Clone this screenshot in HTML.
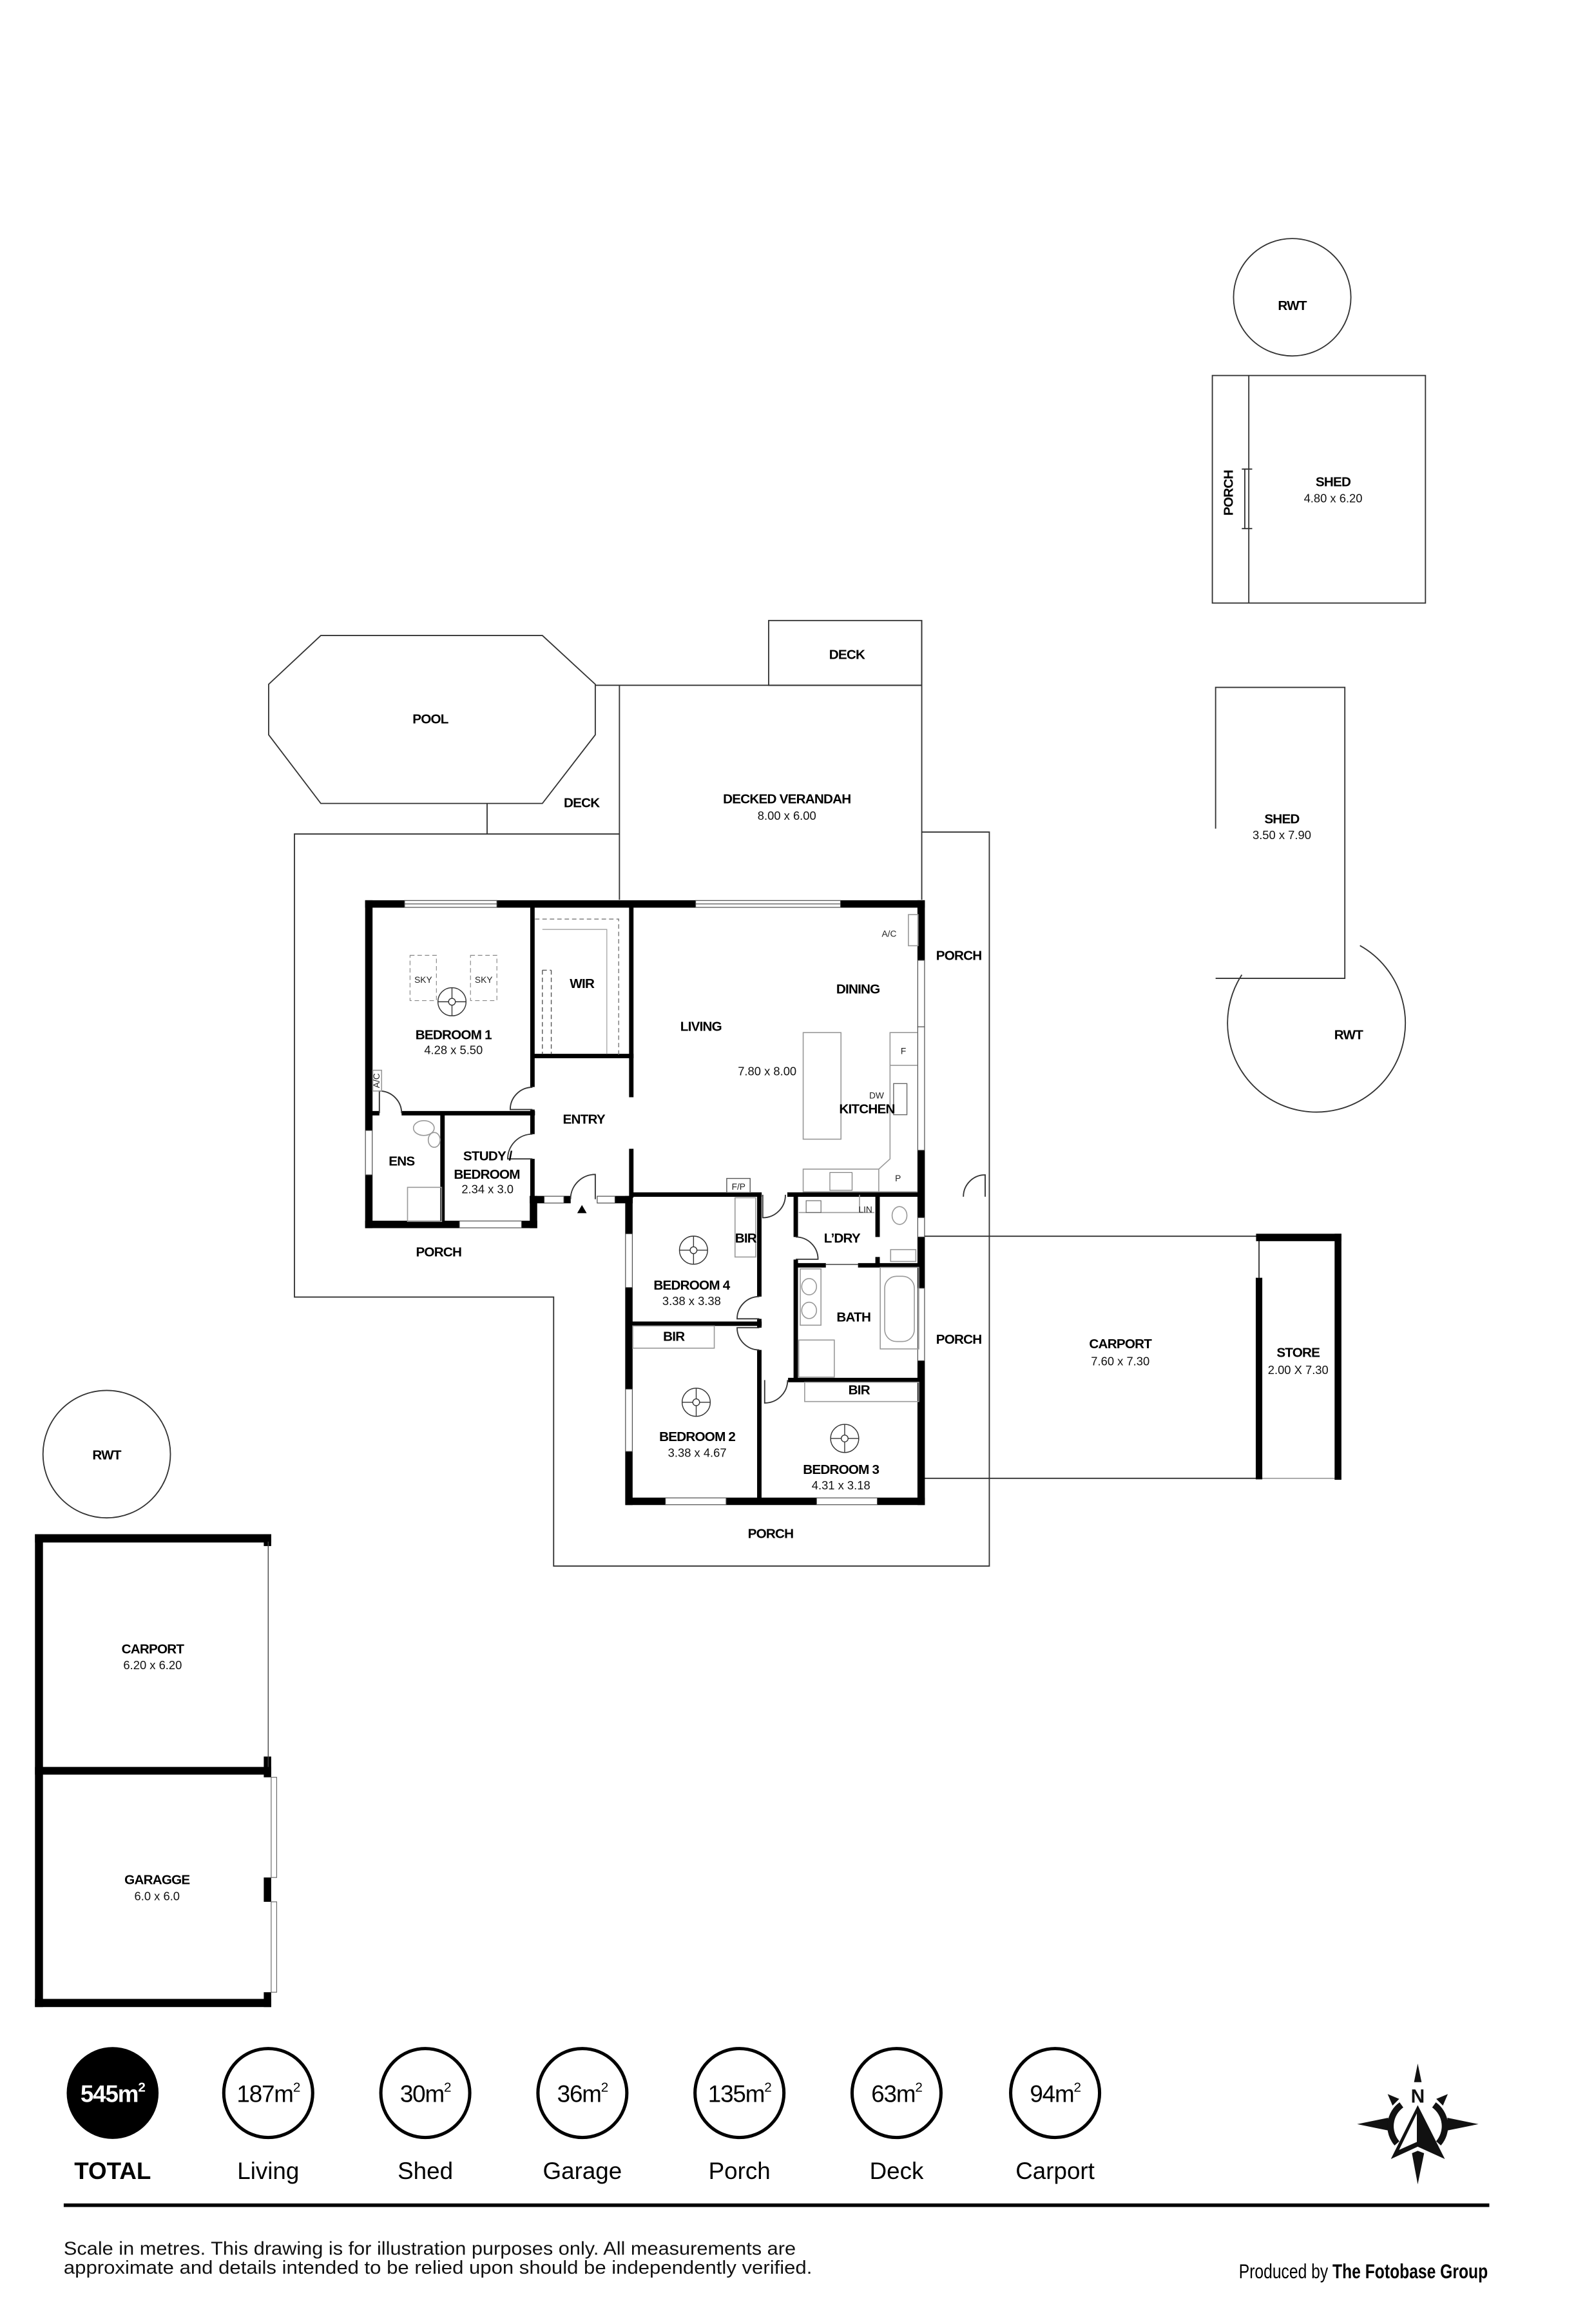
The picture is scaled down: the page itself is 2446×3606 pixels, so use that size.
<!DOCTYPE html>
<html><head><meta charset="utf-8"><style>
html,body{margin:0;padding:0;background:#fff;}
svg{display:block;}
.L{font-family:"Liberation Sans Narrow","Liberation Sans",sans-serif;font-weight:bold;font-size:9px;letter-spacing:-0.35px;fill:#000;text-anchor:middle;}
.D{font-family:"Liberation Sans",sans-serif;font-size:8px;fill:#111;text-anchor:middle;}
.s{font-family:"Liberation Sans",sans-serif;font-size:6px;fill:#222;text-anchor:middle;}
.t{fill:none;stroke:#333;stroke-width:0.8;}
.w{stroke:#000;stroke-width:5;stroke-linecap:butt;fill:none;}
.i{stroke:#000;stroke-width:3;stroke-linecap:butt;fill:none;}
.g{fill:none;stroke:#999;stroke-width:0.7;}
.win{fill:#fff;stroke:#444;stroke-width:0.5;}
</style></head><body>
<svg width="2446" height="3606" viewBox="0 0 1063.5 1567.8" xmlns="http://www.w3.org/2000/svg">
<rect width="1063.5" height="1567.8" fill="#fff"/>

<circle cx="872" cy="200.5" r="39.6" class="t"/>
<text x="872" y="209" class="L">RWT</text>
<rect x="818.1" y="253.3" width="143.8" height="153.5" class="t" stroke-width="1"/>
<line x1="842.7" y1="253.3" x2="842.7" y2="406.8" class="t"/>
<line x1="840" y1="316.4" x2="840" y2="356.6" class="t"/>
<line x1="838" y1="316.4" x2="845" y2="316.4" class="t"/>
<line x1="838" y1="356.6" x2="845" y2="356.6" class="t"/>
<text x="0" y="0" class="L" transform="translate(832,332.5) rotate(-90)">PORCH</text>
<text x="899.6" y="328" class="L">SHED</text>
<text x="899.6" y="339" class="D">4.80 x 6.20</text>

<path d="M820.3,559 L820.3,463.7 L907.5,463.7 L907.5,660 L820.3,660" class="t"/>
<text x="865" y="555.5" class="L">SHED</text>
<text x="865" y="566" class="D">3.50 x 7.90</text>
<path d="M917.7,637.9 A60,60 0 1 1 838,657.6" class="t"/>
<text x="910" y="701" class="L">RWT</text>

<polygon points="216.5,428.7 366,428.7 401.7,461.6 401.7,495.7 366,542 216.5,542 181.3,495.7 181.3,461.6" class="t"/>
<text x="290.4" y="488" class="L">POOL</text>
<path d="M401.7,462.3 L622,462.3" class="t"/>
<rect x="518.7" y="418.6" width="103.3" height="43.7" class="t"/>
<text x="571.5" y="444.5" class="L">DECK</text>
<line x1="418" y1="462.3" x2="418" y2="607" class="t"/>
<line x1="622" y1="418.6" x2="622" y2="607" class="t"/>
<line x1="328.7" y1="542" x2="328.7" y2="562.6" class="t"/>
<text x="392.5" y="544.5" class="L">DECK</text>
<text x="531" y="542" class="L">DECKED VERANDAH</text>
<text x="531" y="553" class="D">8.00 x 6.00</text>

<path d="M418,562.6 L198.7,562.6 L198.7,875 L373.6,875 L373.6,1056.5 L667.6,1056.5 L667.6,561.3 L622,561.3" class="t"/>
<text x="296" y="847.5" class="L">PORCH</text>
<text x="647" y="647.5" class="L">PORCH</text>
<text x="647" y="906.5" class="L">PORCH</text>
<text x="520" y="1037.5" class="L">PORCH</text>
<path d="M664.8,807.3 L664.8,792.6 A14.7,14.7 0 0 0 650.1,807.3" class="t"/>

<line x1="622" y1="834" x2="849.6" y2="834" class="t"/>
<line x1="622" y1="997.3" x2="849.6" y2="997.3" class="t" stroke="#555" stroke-width="1.1"/>
<line x1="849.6" y1="997.3" x2="902.6" y2="997.3" class="g"/>
<line x1="849.6" y1="834" x2="849.6" y2="862" class="t"/>
<rect x="847.6" y="832.3" width="57.6" height="5" fill="#000"/>
<rect x="900.6" y="832.3" width="4.6" height="166" fill="#000"/>
<rect x="847.4" y="862" width="4.4" height="136" fill="#000"/>
<text x="756" y="909.5" class="L">CARPORT</text>
<text x="756" y="921" class="D">7.60 x 7.30</text>
<text x="876" y="915.5" class="L">STORE</text>
<text x="876" y="927" class="D">2.00 X 7.30</text>

<path d="M246.4,609.8 H273 M335.3,609.8 H469.4 M567.2,609.8 H624.1" class="w"/>
<rect x="273" y="607.5" width="62.3" height="4.6" class="win"/>
<line x1="273" y1="609.8" x2="335.3" y2="609.8" stroke="#444" stroke-width="0.5"/>
<rect x="469.4" y="607.5" width="97.8" height="4.6" class="win"/>
<line x1="469.4" y1="609.8" x2="567.2" y2="609.8" stroke="#444" stroke-width="0.5"/>
<path d="M248.9,607.3 V762.6 M248.9,792.6 V828.5" class="w"/>
<rect x="246.6" y="762.6" width="4.6" height="30" class="win"/>
<path d="M246.4,826 H310 M352,826 H362.5" class="w"/>
<rect x="310" y="823.7" width="42" height="4.6" class="win"/>
<path d="M360,806.8 V828.5" class="w"/>
<path d="M357.5,809.3 H367.2 M380.5,809.3 H385.1 M415,809.3 H427" class="w"/>
<rect x="367.2" y="807" width="13.3" height="4.6" class="win"/>
<rect x="403" y="807" width="12" height="4.6" class="win"/>
<path d="M424.4,806.8 V832.3 M424.4,868.6 V937.1 M424.4,979.2 V1015.3" class="w"/>
<rect x="422.1" y="832.3" width="4.6" height="36.3" class="win"/>
<rect x="422.1" y="937.1" width="4.6" height="42.1" class="win"/>
<path d="M422,1012.8 H449 M490,1012.8 H551 M592,1012.8 H624.1" class="w"/>
<rect x="449" y="1010.5" width="41" height="4.6" class="win"/>
<rect x="551" y="1010.5" width="41" height="4.6" class="win"/>
<path d="M621.6,607.3 V647.8 M621.6,776 V821.4 M621.6,834.5 V869 M621.6,918 V1015.3" class="w"/>
<rect x="619.3" y="647.8" width="4.6" height="45" class="win"/>
<rect x="619.3" y="692.7" width="4.6" height="83.3" class="win"/>
<rect x="619.3" y="821.4" width="4.6" height="13.1" class="win"/>
<rect x="619.3" y="869" width="4.6" height="49" class="win"/>

<path d="M359.3,611 V733.3 M359.3,748.5 V765.1 M359.3,781.8 V808" class="i"/>
<path d="M271,751 H361 M251,751 H256" class="i"/>
<path d="M298.6,751 V826" class="i"/>
<path d="M359.3,712.4 H427.5" class="i"/>
<path d="M426,611 V740.2 M426,775 V808" class="i"/>
<path d="M426,805.9 H514 M531.3,805.9 H621.6" class="i"/>
<path d="M512.4,806 V874.7 M512.4,889.7 V895.7 M512.4,910.7 V1012.8" class="i"/>
<path d="M424.4,893 H514" class="i"/>
<path d="M537,806 V834.5 M537,849.7 V930" class="i"/>
<path d="M537,853.6 H557.3 M579,853.6 H621.6" class="i"/>
<path d="M531.8,931 H621.6" class="i"/>
<path d="M592.2,806 V834.5 M592.2,848 V855" class="i"/>
<line x1="557.3" y1="853" x2="579" y2="853" stroke="#333" stroke-width="0.6"/>

<path d="M359.3,733.5 A15,15 0 0 0 344.3,748.5 H359.3" class="t"/>
<path d="M359.3,765.1 A16.7,16.7 0 0 0 342.6,781.8 H359.3" class="t"/>
<path d="M256,751 V736 A15,15 0 0 1 271,751" class="t"/>
<path d="M401.7,809 V792.3 A16.7,16.7 0 0 0 385,809" class="t"/>
<polygon points="392.7,812.9 389.5,818.4 395.9,818.4" fill="#000"/>
<path d="M514.7,806 V821.5 A15.3,15.3 0 0 0 530,806" class="t"/>
<path d="M512.4,874.7 A15,15 0 0 0 497.4,889.7 H512.4" class="t"/>
<path d="M512.4,910.7 A15,15 0 0 1 497.4,895.7 H512.4" class="t"/>
<path d="M516,931 V946.5 A15.5,15.5 0 0 0 531.5,931" class="t"/>
<path d="M537,834.5 A15,15 0 0 1 552,849.5 H537" class="t"/>

<rect x="276.7" y="644.5" width="17.8" height="30.5" fill="none" stroke="#888" stroke-width="0.5" stroke-dasharray="3,2"/>
<rect x="317.5" y="644.5" width="17.8" height="30.5" fill="none" stroke="#888" stroke-width="0.5" stroke-dasharray="3,2"/>
<text x="285.6" y="663" class="s">SKY</text>
<text x="326.4" y="663" class="s">SKY</text>
<g fill="none" stroke="#333" stroke-width="0.6">
<g transform="translate(305,675.8)"><circle r="9.5"/><circle r="2.3"/><path d="M0,-9.5V-2.3M0,2.3V9.5M-9.5,0H-2.3M2.3,0H9.5"/></g>
<g transform="translate(468,843.4)"><circle r="9.5"/><circle r="2.3"/><path d="M0,-9.5V-2.3M0,2.3V9.5M-9.5,0H-2.3M2.3,0H9.5"/></g>
<g transform="translate(469.8,946)"><circle r="9.5"/><circle r="2.3"/><path d="M0,-9.5V-2.3M0,2.3V9.5M-9.5,0H-2.3M2.3,0H9.5"/></g>
<g transform="translate(570,970.4)"><circle r="9.5"/><circle r="2.3"/><path d="M0,-9.5V-2.3M0,2.3V9.5M-9.5,0H-2.3M2.3,0H9.5"/></g>
</g>
<path d="M361,620 H417.5 V712" fill="none" stroke="#777" stroke-width="0.6" stroke-dasharray="3,2"/>
<path d="M366,627 H409.5 V711" fill="none" stroke="#999" stroke-width="0.5"/>
<path d="M366,654.5 V711 M372,654.5 V711 M366,654.5 H372" fill="none" stroke="#555" stroke-width="0.6" stroke-dasharray="3,2"/>
<rect x="251.5" y="722" width="6" height="14" class="g"/>
<text x="0" y="0" class="s" transform="translate(256,729) rotate(-90)" font-size="4.5">A/C</text>
<ellipse cx="286" cy="761" rx="7" ry="5" class="g"/>
<ellipse cx="293" cy="769" rx="4" ry="5" class="g"/>
<rect x="275" y="801" width="23" height="23" class="g"/>
<rect x="542" y="696.6" width="25.5" height="71.9" class="g"/>
<path d="M619,696.6 H600.6 V781.8 L593,788.7 H542 V804 H619" class="g"/>
<line x1="600.6" y1="718.7" x2="619" y2="718.7" class="g"/>
<line x1="593" y1="788.7" x2="593" y2="804" class="g"/>
<rect x="603" y="731" width="9" height="21" fill="none" stroke="#666" stroke-width="0.6"/>
<rect x="560" y="791" width="15" height="12" fill="none" stroke="#777" stroke-width="0.5"/>
<rect x="613" y="617" width="6.5" height="21" class="g"/>
<text x="600" y="632" class="s" font-size="5.5">A/C</text>
<text x="609.6" y="711" class="s">F</text>
<text x="606" y="797" class="s">P</text>
<text x="591.5" y="741" class="s">DW</text>
<rect x="490.4" y="795" width="15.8" height="9.5" fill="none" stroke="#555" stroke-width="0.6"/>
<text x="498.4" y="802.6" class="s" font-size="5.5">F/P</text>
<rect x="496" y="808" width="14" height="40" class="g"/>
<rect x="427" y="894.5" width="55" height="15" class="g"/>
<rect x="543" y="932.5" width="77" height="13" class="g"/>
<path d="M539,818 H590 M580,806 V818" class="g"/>
<rect x="544" y="810" width="10" height="8" fill="none" stroke="#666" stroke-width="0.5"/>
<text x="584" y="818" class="s">LIN</text>
<ellipse cx="607" cy="820" rx="5" ry="6" class="g"/>
<rect x="601" y="843" width="17" height="8" class="g"/>
<rect x="540" y="856" width="14" height="38" class="g"/>
<ellipse cx="546" cy="868" rx="5" ry="5.5" class="g"/>
<ellipse cx="546" cy="884" rx="5" ry="5.5" class="g"/>
<rect x="539" y="904" width="24" height="25" class="g"/>
<rect x="594" y="855" width="26" height="55" class="g"/>
<rect x="597" y="861" width="20" height="44" rx="8" class="g"/>

<text x="306" y="701" class="L">BEDROOM 1</text>
<text x="306" y="711" class="D">4.28 x 5.50</text>
<text x="392.7" y="666.5" class="L">WIR</text>
<text x="473" y="695.5" class="L">LIVING</text>
<text x="579" y="670.2" class="L">DINING</text>
<text x="517.7" y="725.5" class="D">7.80 x 8.00</text>
<text x="585" y="751" class="L">KITCHEN</text>
<text x="394" y="758" class="L">ENTRY</text>
<text x="271" y="786.2" class="L">ENS</text>
<text x="329" y="782.8" class="L" font-size="8.5">STUDY /</text>
<text x="328.5" y="795.3" class="L" font-size="8.5">BEDROOM</text>
<text x="329" y="805" class="D" font-size="7.5">2.34 x 3.0</text>
<text x="503.2" y="838.3" class="L">BIR</text>
<text x="568.2" y="838.3" class="L">L’DRY</text>
<text x="466.7" y="869.9" class="L">BEDROOM 4</text>
<text x="466.7" y="880.5" class="D">3.38 x 3.38</text>
<text x="454.7" y="904.6" class="L">BIR</text>
<text x="576" y="891.5" class="L">BATH</text>
<text x="579.7" y="940.6" class="L">BIR</text>
<text x="470.5" y="972.2" class="L">BEDROOM 2</text>
<text x="470.5" y="982.8" class="D">3.38 x 4.67</text>
<text x="567.5" y="994.4" class="L">BEDROOM 3</text>
<text x="567.5" y="1004.7" class="D">4.31 x 3.18</text>

<circle cx="72" cy="981" r="43" class="t"/>
<text x="72" y="984.5" class="L">RWT</text>

<rect x="23.6" y="1035" width="5.4" height="319" fill="#000"/>
<rect x="23.6" y="1035" width="159.4" height="5.6" fill="#000"/>
<rect x="23.6" y="1192" width="159.4" height="5.2" fill="#000"/>
<rect x="23.6" y="1348.5" width="159.4" height="5.5" fill="#000"/>
<rect x="178" y="1035" width="5" height="8" fill="#000"/>
<rect x="178" y="1185" width="5" height="14" fill="#000"/>
<rect x="178" y="1266.6" width="5" height="16.4" fill="#000"/>
<rect x="178" y="1344" width="5" height="10" fill="#000"/>
<line x1="181" y1="1040" x2="181" y2="1192" stroke="#444" stroke-width="0.6"/>
<rect x="183" y="1199" width="3.7" height="67.6" fill="none" stroke="#666" stroke-width="0.5"/>
<rect x="183" y="1283" width="3.7" height="61" fill="none" stroke="#666" stroke-width="0.5"/>
<text x="103" y="1115.5" class="L">CARPORT</text>
<text x="103" y="1126" class="D">6.20 x 6.20</text>
<text x="106" y="1271" class="L">GARAGGE</text>
<text x="106" y="1282" class="D">6.0 x 6.0</text>

<g font-family="Liberation Sans Narrow, Liberation Sans, sans-serif" text-anchor="middle">
<circle cx="76" cy="1412" r="31" fill="#000"/>
<text x="76" y="1418" font-size="16" font-weight="bold" fill="#fff" letter-spacing="-0.5">545m<tspan font-size="9" dy="-7">2</tspan></text>
<g fill="none" stroke="#000" stroke-width="2.2">
<circle cx="181" cy="1412" r="30"/><circle cx="287" cy="1412" r="30"/><circle cx="393" cy="1412" r="30"/>
<circle cx="499" cy="1412" r="30"/><circle cx="605" cy="1412" r="30"/><circle cx="712" cy="1412" r="30"/>
</g>
<g font-size="16" fill="#000" letter-spacing="-0.5">
<text x="181" y="1418">187m<tspan font-size="9" dy="-7">2</tspan></text>
<text x="287" y="1418">30m<tspan font-size="9" dy="-7">2</tspan></text>
<text x="393" y="1418">36m<tspan font-size="9" dy="-7">2</tspan></text>
<text x="499" y="1418">135m<tspan font-size="9" dy="-7">2</tspan></text>
<text x="605" y="1418">63m<tspan font-size="9" dy="-7">2</tspan></text>
<text x="712" y="1418">94m<tspan font-size="9" dy="-7">2</tspan></text>
</g>
<g font-size="16" fill="#000">
<text x="76" y="1470" font-weight="bold">TOTAL</text>
<text x="181" y="1470">Living</text>
<text x="287" y="1470">Shed</text>
<text x="393" y="1470">Garage</text>
<text x="499" y="1470">Porch</text>
<text x="605" y="1470">Deck</text>
<text x="712" y="1470">Carport</text>
</g>
</g>
<rect x="43" y="1486.5" width="962" height="2.4" fill="#000"/>
<g font-family="Liberation Sans, sans-serif" font-size="12.5" fill="#111">
<text x="43" y="1521" textLength="494" lengthAdjust="spacingAndGlyphs">Scale in metres. This drawing is for illustration purposes only. All measurements are</text>
<text x="43" y="1534" textLength="505" lengthAdjust="spacingAndGlyphs">approximate and details intended to be relied upon should be independently verified.</text>
</g>
<text x="1004" y="1537" text-anchor="end" font-family="Liberation Sans Narrow, Liberation Sans, sans-serif" font-size="13.5" fill="#000" textLength="168" lengthAdjust="spacingAndGlyphs">Produced by <tspan font-weight="bold">The Fotobase Group</tspan></text>

<g transform="translate(956.7,1433)" fill="#111">
<polygon points="0,-40.9 -2.5,-28.3 2.6,-28.3"/>
<polygon points="0,40.6 -3.9,19.6 0,18 4.3,19.6"/>
<polygon points="-40.9,0 -19.9,-4.3 -19.9,4.3"/>
<polygon points="41,0 20,-4.3 20,4.3"/>
<polygon points="-20.3,-20.3 -12.5,-17 -17,-12.5"/>
<polygon points="20.3,-20.3 12.5,-17 17,-12.5"/>
<path d="M-11,-13 A17.7,17.7 0 0 0 -14,13" fill="none" stroke="#111" stroke-width="4.3"/>
<path d="M11,-13 A17.7,17.7 0 0 1 14,13" fill="none" stroke="#111" stroke-width="4.3"/>
<polygon points="0,-12.8 -18.1,23.5 0,15.2 18.3,23.5"/>
<polygon points="-0.6,-7.2 -12.6,17.4 -0.6,12" fill="#fff"/>
<text x="0" y="-14.5" text-anchor="middle" font-family="Liberation Sans Narrow, Liberation Sans, sans-serif" font-weight="bold" font-size="13">N</text>
</g>
</svg>
</body></html>
